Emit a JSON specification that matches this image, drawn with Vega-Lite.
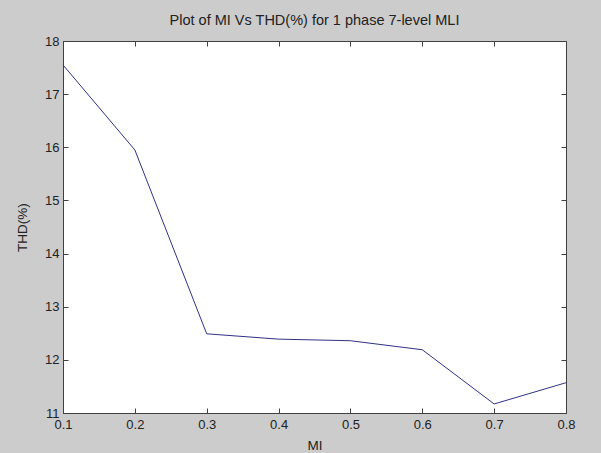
{
  "$schema": "https://vega.github.io/schema/vega-lite/v6.json",
  "width": 503,
  "height": 372,
  "autosize": {"type": "none"},
  "padding": {"left": 63, "top": 41, "right": 35, "bottom": 40},
  "background": "#cccccc",
  "title": {
    "text": "Plot of MI Vs THD(%) for 1 phase 7-level MLI",
    "font": "Liberation Sans",
    "fontSize": 14.5,
    "fontWeight": "normal",
    "color": "#222222",
    "offset": 7,
    "anchor": "middle"
  },
  "config": {
    "view": {"fill": "white", "stroke": "#404040", "strokeWidth": 1},
    "axis": {
      "grid": false,
      "domainColor": "#404040",
      "tickColor": "#404040",
      "labelFont": "Liberation Sans",
      "labelFontSize": 13,
      "labelColor": "#222222",
      "titleFont": "Liberation Sans",
      "titleFontSize": 13.5,
      "titleFontWeight": "normal",
      "titleColor": "#222222",
      "labelOverlap": false,
      "labelBound": false,
      "labelFlush": false
    }
  },
  "data": {
    "values": [
      {"MI": 0.1, "THD": 17.55},
      {"MI": 0.2, "THD": 15.95},
      {"MI": 0.3, "THD": 12.49},
      {"MI": 0.4, "THD": 12.39},
      {"MI": 0.5, "THD": 12.36},
      {"MI": 0.6, "THD": 12.19},
      {"MI": 0.7, "THD": 11.17},
      {"MI": 0.8, "THD": 11.57}
    ]
  },
  "layer": [
    {
      "mark": {"type": "line", "color": "#30308a", "strokeWidth": 1},
      "encoding": {
        "x": {
          "field": "MI", "type": "quantitative",
          "scale": {"domain": [0.1, 0.8], "nice": false, "zero": false},
          "axis": {"title": "MI", "values": [0.1, 0.2, 0.3, 0.4, 0.5, 0.6, 0.7, 0.8], "format": ".1f", "tickSize": -5, "labelPadding": 10, "titlePadding": 7}
        },
        "y": {
          "field": "THD", "type": "quantitative",
          "scale": {"domain": [11, 18], "nice": false, "zero": false},
          "axis": {"title": "THD(%)", "values": [11, 12, 13, 14, 15, 16, 17, 18], "tickSize": -5, "labelPadding": 9, "titlePadding": 15}
        }
      }
    },
    {
      "mark": {"type": "line", "opacity": 0},
      "encoding": {
        "x": {
          "field": "MI", "type": "quantitative",
          "scale": {"domain": [0.1, 0.8], "nice": false, "zero": false},
          "axis": {"orient": "top", "title": null, "labels": false, "values": [0.1, 0.2, 0.3, 0.4, 0.5, 0.6, 0.7, 0.8], "tickSize": -5}
        },
        "y": {
          "field": "THD", "type": "quantitative",
          "scale": {"domain": [11, 18], "nice": false, "zero": false},
          "axis": {"orient": "right", "title": null, "labels": false, "values": [11, 12, 13, 14, 15, 16, 17, 18], "tickSize": -5}
        }
      }
    }
  ],
  "resolve": {"axis": {"x": "independent", "y": "independent"}}
}
